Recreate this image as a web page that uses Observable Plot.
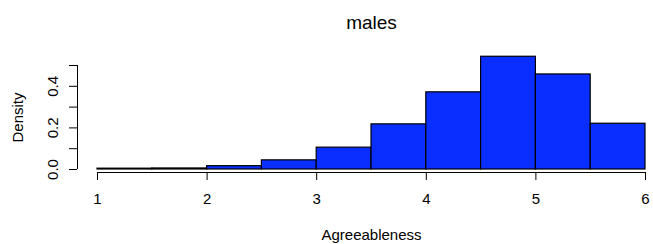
<!DOCTYPE html>
<html>
<head>
<meta charset="utf-8">
<script src="https://cdn.jsdelivr.net/npm/d3@7"></script>
<script src="https://cdn.jsdelivr.net/npm/@observablehq/plot@0.6"></script>
<style>
  html, body { margin: 0; padding: 0; background: #fff; }
  svg { display: block; }
</style>
</head>
<body>
<div id="chart"></div>
<script>
// Histogram data (males, Agreeableness), density per 0.5-wide bin
const binStarts = [1, 1.5, 2, 2.5, 3, 3.5, 4, 4.5, 5, 5.5];
const binEnds   = [1.5, 2, 2.5, 3, 3.5, 4, 4.5, 5, 5.5, 6];
const densities = [0.004, 0.005, 0.016, 0.044, 0.105, 0.217, 0.371, 0.542, 0.457, 0.220];
const xTicks = [1, 2, 3, 4, 5, 6];
const yTicks = [0, 0.1, 0.2, 0.3, 0.4, 0.5];
const yLabeled = [0, 0.2, 0.4];
const title = "males";
const xLabel = "Agreeableness";
const yLabel = "Density";

const bins = binStarts.map((s, i) => ({x1: s, x2: binEnds[i], y: densities[i]}));

// R-style axis offsets (axes detached from data region)
const pxPerX = 109.6, pxPerY = 208;
const xLo = 1 - 20 / pxPerX;      // y-axis line sits left of x=1
const yLo = -3 / pxPerY;          // x-axis line sits below y=0
const font = "Liberation Sans, Arial, Helvetica, sans-serif";

const chart = Plot.plot({
  width: 653,
  height: 244,
  marginLeft: 77,
  marginRight: 8,
  marginTop: 65,
  marginBottom: 72,
  style: {fontFamily: font, fontSize: "15px", color: "#000", background: "#fff"},
  x: {domain: [xLo, 6]},
  y: {domain: [yLo, 0.5]},
  marks: [
    Plot.rectY(bins, {x1: "x1", x2: "x2", y1: 0, y2: "y", fill: "#0a2eff", stroke: "#000", strokeWidth: 1.2}),
    // x axis
    Plot.ruleY([yLo], {x1: xTicks[0], x2: xTicks[xTicks.length - 1], stroke: "#000"}),
    Plot.axisX({ticks: xTicks, tickSize: 8, tickPadding: 13, tickFormat: d3.format("d"), label: null, anchor: "bottom"}),
    // y axis
    Plot.ruleX([xLo], {y1: yTicks[0], y2: yTicks[yTicks.length - 1], stroke: "#000"}),
    Plot.axisY({ticks: yTicks, tickSize: 8, tickFormat: () => "", label: null, anchor: "left"}),
    Plot.text(yLabeled, {x: xLo, y: d => d, text: d => d3.format(".1f")(d), rotate: -90, dx: -24, textAnchor: "middle", lineAnchor: "middle", fontSize: 15}),
    // titles
    Plot.text([title], {x: 3.5, frameAnchor: "top", dy: -43, fontSize: 19, textAnchor: "middle", lineAnchor: "middle"}),
    Plot.text([xLabel], {x: 3.5, frameAnchor: "bottom", dy: 63, fontSize: 15, textAnchor: "middle", lineAnchor: "middle"}),
    Plot.text([yLabel], {y: 0.25, frameAnchor: "left", dx: -59, rotate: -90, fontSize: 15, textAnchor: "middle", lineAnchor: "middle"})
  ]
});
document.getElementById("chart").appendChild(chart);
</script>
</body>
</html>
